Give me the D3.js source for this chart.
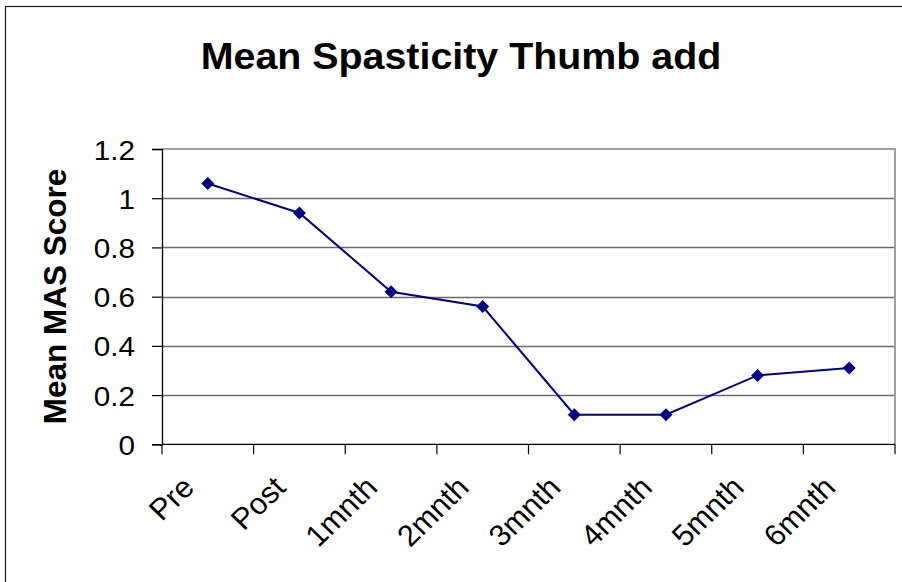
<!DOCTYPE html>
<html>
<head>
<meta charset="utf-8">
<script src="https://cdn.jsdelivr.net/npm/d3@7"></script>
<style>
  html, body { margin: 0; padding: 0; background: #fff; }
  svg { display: block; }
  text { font-family: "Liberation Sans", Arial, sans-serif; fill: #000; }
</style>
</head>
<body>
<script>
const categories = ["Pre", "Post", "1mnth", "2mnth", "3mnth", "4mnth", "5mnth", "6mnth"];
const meanMAS = [1.06, 0.94, 0.62, 0.56, 0.12, 0.12, 0.28, 0.31];
const yTicks = [0, 0.2, 0.4, 0.6, 0.8, 1.0, 1.2];
const yTickLabels = ["0", "0.2", "0.4", "0.6", "0.8", "1", "1.2"];
const titleText = "Mean Spasticity Thumb add";
const yTitleText = "Mean MAS Score";

const W = 902, H = 582;
const plot = { left: 162, right: 895, top: 149, bottom: 444.3 };
const SX = 1.06; // horizontal stretch of text, as in the reference

const svg = d3.select("body").append("svg").attr("width", W).attr("height", H);

// outer frame
svg.append("rect")
  .attr("x", 5.5).attr("y", 6.5).attr("width", 920).attr("height", 620)
  .attr("fill", "none").attr("stroke", "#1a1a1a").attr("stroke-width", 1.2);

const x = d3.scaleBand().domain(categories).range([plot.left, plot.right]).padding(0);
const y = d3.scaleLinear().domain([0, 1.2]).range([plot.bottom, plot.top]);

// gridlines
svg.append("g").selectAll("line")
  .data(yTicks.filter(v => v > 0 && v < 1.2))
  .join("line")
  .attr("x1", plot.left).attr("x2", plot.right)
  .attr("y1", d => Math.round(y(d)) + 0.5).attr("y2", d => Math.round(y(d)) + 0.5)
  .attr("stroke", "#6a6a6a").attr("stroke-width", 1.3);

// plot border top & right
svg.append("path")
  .attr("d", `M${plot.left},${y(1.2)}H${plot.right}V${plot.bottom}`)
  .attr("fill", "none").attr("stroke", "#a0a0a0").attr("stroke-width", 2);

// y axis
const yAxis = d3.axisLeft(y).tickValues(yTicks).tickSize(10).tickFormat((d, i) => yTickLabels[i]);
const gy = svg.append("g").attr("transform", `translate(${plot.left},0)`).call(yAxis);
gy.select(".domain").attr("stroke", "#000").attr("stroke-width", 1.3);
gy.selectAll(".tick line").attr("stroke", "#000").attr("stroke-width", 1.2);
gy.selectAll(".tick text")
  .attr("x", null).attr("dy", null)
  .attr("font-size", 28)
  .attr("font-family", "Liberation Sans, Arial, sans-serif")
  .attr("fill", "#000")
  .attr("text-anchor", "end")
  .attr("transform", `translate(-27,10) scale(${SX},1)`);

// x axis (ticks at category boundaries)
const boundaries = categories.map(c => x(c)).concat([plot.right]);
svg.append("line")
  .attr("x1", plot.left).attr("x2", plot.right)
  .attr("y1", plot.bottom).attr("y2", plot.bottom)
  .attr("stroke", "#000").attr("stroke-width", 1.3);
svg.append("g").selectAll("line").data(boundaries).join("line")
  .attr("x1", d => d).attr("x2", d => d)
  .attr("y1", plot.bottom).attr("y2", plot.bottom + 10)
  .attr("stroke", "#000").attr("stroke-width", 1.2);

// x labels rotated
svg.append("g").selectAll("text").data(categories).join("text")
  .attr("font-size", 30)
  .attr("text-anchor", "end")
  .attr("transform", d => `translate(${x(d) + x.bandwidth() / 2 - 12},${plot.bottom + 45}) scale(1.03,1) rotate(-45)`)
  .text(d => d);

// line
const line = d3.line()
  .x((d, i) => x(categories[i]) + x.bandwidth() / 2)
  .y(d => y(d));
svg.append("path").datum(meanMAS)
  .attr("d", line)
  .attr("fill", "none").attr("stroke", "#000080").attr("stroke-width", 2);

// diamond markers
const diamond = d3.symbol().type(d3.symbolDiamond2).size(108);
svg.append("g").selectAll("path").data(meanMAS).join("path")
  .attr("d", diamond)
  .attr("transform", (d, i) => `translate(${x(categories[i]) + x.bandwidth() / 2},${y(d)})`)
  .attr("fill", "#000080");

// title
svg.append("text")
  .attr("transform", `translate(461,68.5) scale(1.05,1)`)
  .attr("text-anchor", "middle")
  .attr("font-size", 37.5).attr("font-weight", "bold")
  .text(titleText);

// y title
svg.append("text")
  .attr("transform", `translate(66,296.5) rotate(-90)`)
  .attr("text-anchor", "middle")
  .attr("font-size", 31.5).attr("font-weight", "bold")
  .text(yTitleText);
</script>
</body>
</html>
